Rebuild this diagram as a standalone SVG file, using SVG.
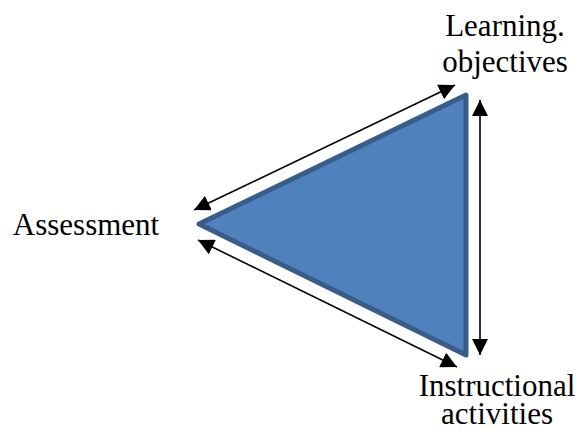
<svg xmlns="http://www.w3.org/2000/svg" width="582" height="430" viewBox="0 0 582 430">
<defs>
<marker id="ah" viewBox="0 0 16 16" refX="16" refY="8" markerWidth="16" markerHeight="16" markerUnits="userSpaceOnUse" orient="auto-start-reverse">
<path d="M0,0 L16,8 L0,16 z" fill="#000"/>
</marker>
<style>
.lbl{font-family:"Liberation Serif","Times New Roman",serif;font-size:31px;fill:#000;text-anchor:middle}
.con{stroke:#000;stroke-width:1.6;fill:none;marker-start:url(#ah);marker-end:url(#ah)}
</style>
</defs>
<rect width="582" height="430" fill="#fff"/>
<g id="triangle">
<polygon points="199,224 466,95 466,355" fill="#4f81bd" stroke="#385d8a" stroke-width="5" stroke-linejoin="round"/>
</g>
<g id="connectors">
<line class="con" x1="194" y1="210" x2="455" y2="85"/>
<line class="con" x1="198" y1="240" x2="457" y2="367"/>
<line class="con" x1="480" y1="100" x2="480" y2="355"/>
</g>
<g id="assessment"><text class="lbl" x="86" y="235">Assessment</text></g>
<g id="learning-objectives"><text class="lbl" x="505" y="36">Learning.</text><text class="lbl" x="505" y="72">objectives</text></g>
<g id="instructional-activities"><text class="lbl" x="497" y="396">Instructional</text><text class="lbl" x="497" y="424">activities</text></g>
</svg>
